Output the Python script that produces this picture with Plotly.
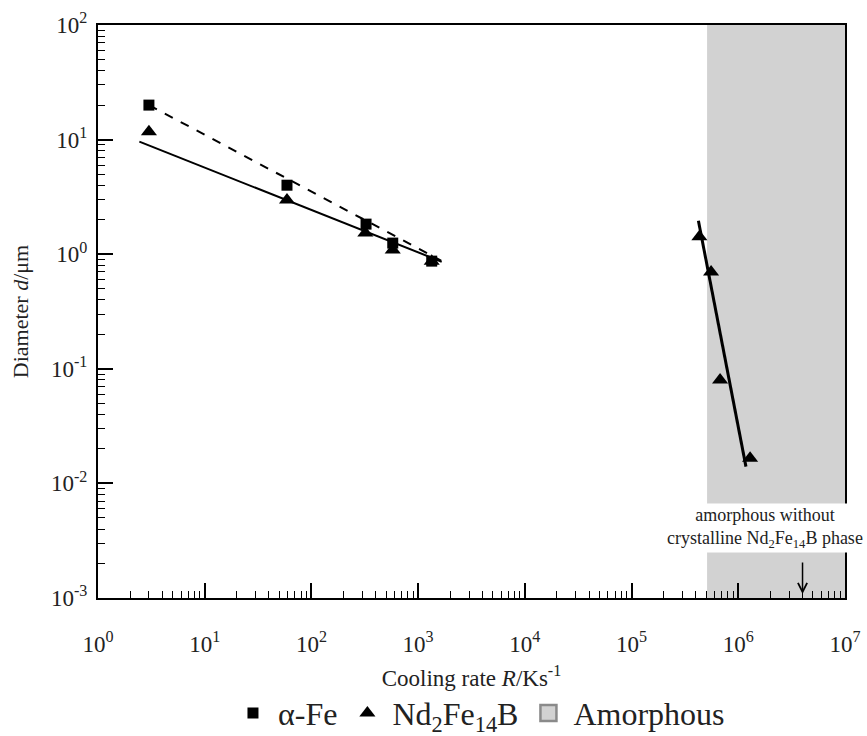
import math
import plotly.graph_objects as go

# ---- data ----
fe_rate = [3.0, 59, 325, 578, 1340]
fe_diam = [20.0, 4.0, 1.83, 1.25, 0.87]

nd_rate = [3.0, 59, 320, 578, 1340, 4.32e5, 5.56e5, 6.75e5, 1.29e6]
nd_diam = [11.7, 2.97, 1.53, 1.09, 0.87, 1.42, 0.70, 0.080, 0.0166]

fe_fit_rate = [3.0, 1640]
fe_fit_diam = [20.0, 0.88]
nd_fit1_rate = [2.44, 1663]
nd_fit1_diam = [9.6, 0.86]
nd_fit2_rate = [4.23e5, 1.18e6]
nd_fit2_diam = [1.96, 0.014]

amorphous_rate = [5.1e5, 1e7]
diam_limits = [1e-3, 1e2]
arrow_rate = 4.0e6

x_tickvals = [1e0, 1e1, 1e2, 1e3, 1e4, 1e5, 1e6, 1e7]
x_ticktext = ["10<sup>0</sup>", "10<sup>1</sup>", "10<sup>2</sup>", "10<sup>3</sup>",
              "10<sup>4</sup>", "10<sup>5</sup>", "10<sup>6</sup>", "10<sup>7</sup>"]
y_tickvals = [1e-3, 1e-2, 1e-1, 1e0, 1e1, 1e2]
y_ticktext = ["10<sup>-3</sup>", "10<sup>-2</sup>", "10<sup>-1</sup>",
              "10<sup>0</sup>", "10<sup>1</sup>", "10<sup>2</sup>"]

FONT = "Liberation Serif, Times New Roman, serif"
SHADE = "#d2d2d2"

fig = go.Figure()

# amorphous shaded region
fig.add_trace(go.Scatter(
    x=[amorphous_rate[0], amorphous_rate[1], amorphous_rate[1], amorphous_rate[0], amorphous_rate[0]],
    y=[diam_limits[0], diam_limits[0], diam_limits[1], diam_limits[1], diam_limits[0]],
    mode="lines", fill="toself", fillcolor=SHADE, line=dict(width=0, color=SHADE),
    showlegend=False, hoverinfo="skip"))

# fit lines
fig.add_trace(go.Scatter(x=fe_fit_rate, y=fe_fit_diam, mode="lines",
                         line=dict(color="black", width=2, dash="dash"), showlegend=False))
fig.add_trace(go.Scatter(x=nd_fit1_rate, y=nd_fit1_diam, mode="lines",
                         line=dict(color="black", width=2), showlegend=False))
fig.add_trace(go.Scatter(x=nd_fit2_rate, y=nd_fit2_diam, mode="lines",
                         line=dict(color="black", width=3), showlegend=False))

# data
fig.add_trace(go.Scatter(x=fe_rate, y=fe_diam, mode="markers", name="α-Fe",
                         marker=dict(symbol="square", size=11, color="black")))
fig.add_trace(go.Scatter(x=nd_rate, y=nd_diam, mode="markers",
                         name="Nd<sub>2</sub>Fe<sub>14</sub>B",
                         marker=dict(symbol="triangle-up", size=14, color="black")))
# legend entry for the amorphous region
fig.add_trace(go.Scatter(x=[None], y=[None], mode="markers", name="Amorphous",
                         marker=dict(symbol="square", size=16, color=SHADE,
                                     line=dict(color="#8a8a8a", width=2.5))))

axis_common = dict(
    type="log", showline=True, linecolor="black", linewidth=2, mirror=True,
    ticks="inside", ticklen=15, tickwidth=1.5, tickcolor="black",
    showgrid=False, zeroline=False, tickmode="array",
    tickfont=dict(family=FONT, size=23, color="#222"),
)

x_minor = [k * 10 ** n for n in range(0, 7) for k in range(2, 10)]
y_minor = [k * 10.0 ** n for n in range(-3, 2) for k in range(2, 10)]

fig.update_xaxes(**axis_common, range=[0, 7], tickvals=x_tickvals, ticktext=x_ticktext,
                 ticklabelstandoff=24,
                 minor=dict(tickmode="array", tickvals=x_minor, ticks="inside",
                            ticklen=7, tickwidth=1.2, tickcolor="black"),
                 title=dict(text="Cooling rate <i>R</i>/Ks<sup>-1</sup>",
                            font=dict(family=FONT, size=23, color="#222"), standoff=14))
fig.update_yaxes(**axis_common, range=[-3, 2], tickvals=y_tickvals, ticktext=y_ticktext,
                 ticklabelstandoff=4,
                 minor=dict(tickmode="array", tickvals=y_minor, ticks="inside",
                            ticklen=7, tickwidth=1.2, tickcolor="black"),
                 title=dict(text="Diameter <i>d</i>/μm",
                            font=dict(family=FONT, size=22, color="#222"), standoff=16))

# annotation text with white box
fig.add_annotation(
    x=6.251, y=-2.607, xref="x", yref="y",
    text="amorphous without<br>crystalline Nd<sub>2</sub>Fe<sub>14</sub>B phase",
    showarrow=False, xanchor="center", yanchor="bottom", bgcolor="white",
    font=dict(family=FONT, size=18, color="#222"), borderpad=1)
# arrow
fig.add_annotation(
    x=math.log10(arrow_rate), y=-2.965, xref="x", yref="y", text=" ",
    showarrow=True, ax=0, ay=-40, arrowhead=5, arrowsize=1.2, arrowwidth=1.5,
    arrowcolor="black")

fig.update_layout(
    width=867, height=736,
    margin=dict(l=98, r=22, t=25, b=138, autoexpand=False),
    plot_bgcolor="white", paper_bgcolor="white",
    font=dict(family=FONT, color="#222"),
    legend=dict(orientation="h", x=0.51, xanchor="center", y=-0.201, yanchor="middle",
                itemwidth=40,
                font=dict(family=FONT, size=32, color="#222"), bgcolor="rgba(0,0,0,0)"),
)

fig.write_html("out.html")
